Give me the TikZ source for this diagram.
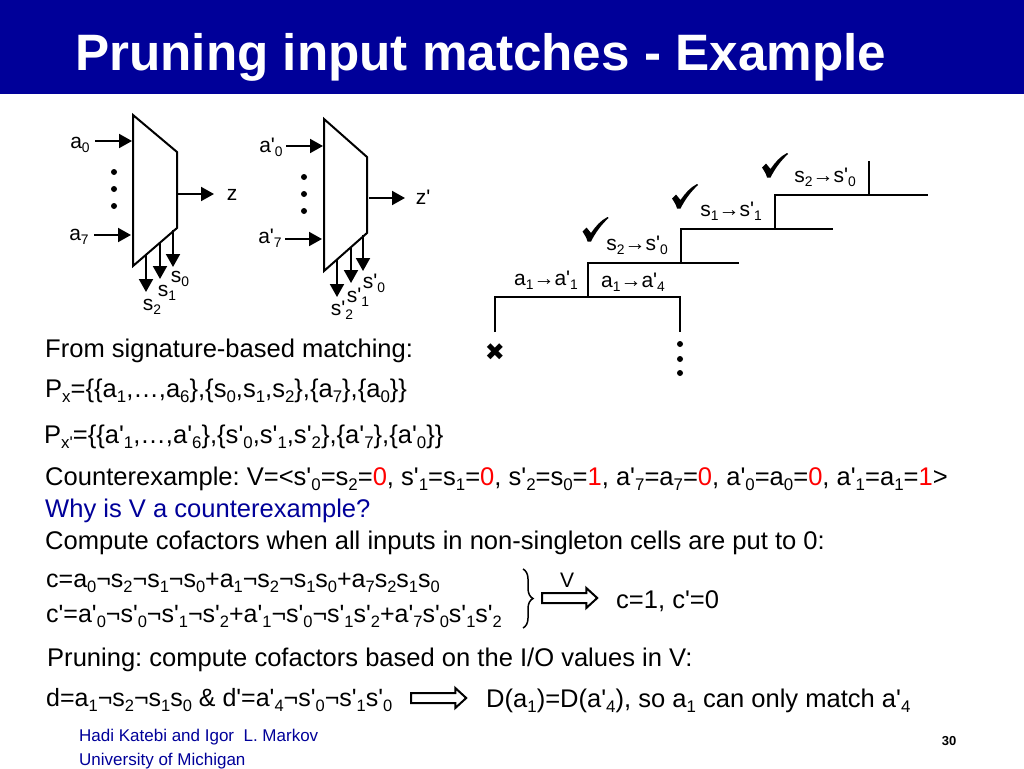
\documentclass[tikz,border=0pt]{standalone}
\usepackage{fontspec}
\setmainfont[Ligatures=TeXOff]{Liberation Sans}
\newfontfamily\symfont{DejaVu Sans}
\usetikzlibrary{arrows.meta,decorations.pathreplacing,shapes.arrows}
\definecolor{banner}{RGB}{0,0,153}
\definecolor{hotred}{RGB}{255,0,0}
\newcommand{\dn}[1]{\raisebox{-0.22em}{\scalebox{.66}{#1}}}
\newcommand{\rd}[1]{\textcolor{hotred}{#1}}
\frenchspacing
\tikzset{
  txt/.style={anchor=base west, inner sep=0pt, font=\fontsize{25.55}{28}\selectfont},
  eqn/.style={anchor=base west, inner sep=0pt, font=\fontsize{25}{28}\selectfont},
  lbl/.style={anchor=base, inner sep=0pt, font=\fontsize{21}{24}\selectfont},
  foot/.style={anchor=base west, inner sep=0pt, text=banner, font=\fontsize{17}{19}\selectfont},
  wire/.style={line width=2pt},
  sig/.style={line width=2pt, -{Triangle[length=13pt,width=14pt]}},
  dotmark/.style={circle, fill=black, inner sep=0pt, minimum size=6pt},
  fat/.style={single arrow, draw, line width=2pt, inner sep=4pt, outer sep=0pt, minimum height=55pt, single arrow head extend=5pt, single arrow tip angle=85},
  tickmark/.pic={\fill (-13,2) -- (-9,-2) -- (-4.5,3.5) .. controls (0,-3) and (5,-9) .. (12,-12.5) -- (13,-11.5) .. controls (6,-5) and (0,3) .. (-4.5,12) -- (-8,12) .. controls (-9,8) and (-11,5) .. cycle;}
}
\begin{document}
\begin{tikzpicture}[x=1pt,y=-1pt]
  \useasboundingbox (0,0) rectangle (1024,768);
  % Title banner:
  \fill[banner] (0,0) rectangle (1024,94);
  \node[anchor=base west, inner sep=0pt, text=white, font=\bfseries\fontsize{51.2}{54}\selectfont] (title) at (75,70.5) {Pruning input matches - Example};

  % First mux:
  \coordinate (m1a) at (133,115);
  \coordinate (m1b) at (177,152);
  \coordinate (m1c) at (177,228);
  \coordinate (m1d) at (133,266);
  \draw[wire, line join=miter] (m1a) -- (m1b) -- (m1c) -- (m1d) -- cycle;
  \coordinate (a0in) at (95,141);
  \coordinate (a0to) at (132,141);
  \coordinate (a7in) at (94,235);
  \coordinate (a7to) at (131,235);
  \coordinate (zout) at (178,194);
  \coordinate (zto) at (214,194);
  \coordinate (s0top) at (173,230);
  \coordinate (s0to) at (173,267);
  \coordinate (s1top) at (160,243);
  \coordinate (s1to) at (160,279);
  \coordinate (s2top) at (146,255);
  \coordinate (s2to) at (146,292);
  \draw[sig] (a0in) -- (a0to);
  \draw[sig] (a7in) -- (a7to);
  \draw[sig] (zout) -- (zto);
  \draw[sig] (s0top) -- (s0to);
  \draw[sig] (s1top) -- (s1to);
  \draw[sig] (s2top) -- (s2to);
  \node[lbl] (a0) at (80,148) {a\dn{0}};
  \node[lbl] (a7) at (79,240) {a\dn{7}};
  \node[lbl] (z) at (232,200) {z};
  \node[lbl] (s0) at (180,282) {s\dn{0}};
  \node[lbl] (s1) at (167,296) {s\dn{1}};
  \node[lbl] (s2) at (152,310) {s\dn{2}};
  \node[dotmark] (d1) at (114,172) {};
  \node[dotmark] (d2) at (114,189) {};
  \node[dotmark] (d3) at (114,206) {};

  % Second mux:
  \coordinate (m2a) at (324,119);
  \coordinate (m2b) at (367,157);
  \coordinate (m2c) at (367,233);
  \coordinate (m2d) at (324,271);
  \draw[wire, line join=miter] (m2a) -- (m2b) -- (m2c) -- (m2d) -- cycle;
  \coordinate (b0in) at (286,146);
  \coordinate (b0to) at (323,146);
  \coordinate (b7in) at (285,239);
  \coordinate (b7to) at (322,239);
  \coordinate (youtx) at (369,198);
  \coordinate (yto) at (405,198);
  \coordinate (r0top) at (363,235);
  \coordinate (r0to) at (363,271);
  \coordinate (r1top) at (351,248);
  \coordinate (r1to) at (351,283);
  \coordinate (r2top) at (337,260);
  \coordinate (r2to) at (337,297);
  \draw[sig] (b0in) -- (b0to);
  \draw[sig] (b7in) -- (b7to);
  \draw[sig] (youtx) -- (yto);
  \draw[sig] (r0top) -- (r0to);
  \draw[sig] (r1top) -- (r1to);
  \draw[sig] (r2top) -- (r2to);
  \node[lbl] (b0) at (271,152) {a'\dn{0}};
  \node[lbl] (b7) at (270,243) {a'\dn{7}};
  \node[lbl] (zp) at (423,204) {z'};
  \node[lbl] (r0) at (374,288) {s'\dn{0}};
  \node[lbl] (r1) at (358,302) {s'\dn{1}};
  \node[lbl] (r2) at (342,315) {s'\dn{2}};
  \node[dotmark] (e1) at (304,177) {};
  \node[dotmark] (e2) at (304,194) {};
  \node[dotmark] (e3) at (304,211) {};

  % Search tree:
  \coordinate (t1l) at (495,297);
  \coordinate (t1r) at (680,297);
  \coordinate (t1m) at (588,297);
  \coordinate (t1ld) at (495,332);
  \coordinate (t1rd) at (680,332);
  \coordinate (t2l) at (588,263);
  \coordinate (t2r) at (739,263);
  \coordinate (t2m) at (681,263);
  \coordinate (t3l) at (681,229);
  \coordinate (t3r) at (833,229);
  \coordinate (t3m) at (775,229);
  \coordinate (t4l) at (775,195);
  \coordinate (t4r) at (928,195);
  \coordinate (t4m) at (869,195);
  \coordinate (t4top) at (869,161);
  \draw[wire] (t1ld) -- (t1l) -- (t1r) -- (t1rd);
  \draw[wire] (t1m) -- (t2l) -- (t2r);
  \draw[wire] (t2m) -- (t3l) -- (t3r);
  \draw[wire] (t3m) -- (t4l) -- (t4r);
  \draw[wire] (t4m) -- (t4top);
  \node[lbl] (m1) at (546,285) {a\dn{1}→a'\dn{1}};
  \node[lbl] (m2) at (633,287) {a\dn{1}→a'\dn{4}};
  \node[lbl] (m3) at (637,250) {s\dn{2}→s'\dn{0}};
  \node[lbl] (m4) at (731,216) {s\dn{1}→s'\dn{1}};
  \node[lbl] (m5) at (825,182) {s\dn{2}→s'\dn{0}};
  \pic at (595.5,229.5) {tickmark};
  \pic at (685,196.5) {tickmark};
  \pic at (775,165.5) {tickmark};
  \node[inner sep=0pt, font=\symfont\fontsize{24}{24}\selectfont] (cross) at (495,352) {✖};
  \node[dotmark] (f1) at (680,344) {};
  \node[dotmark] (f2) at (680,359) {};
  \node[dotmark] (f3) at (680,373) {};

  % Text lines:
  \node[txt] (sigline) at (45,357) {From signature-based matching:};
  \node[txt] (px) at (45,397) {P\dn{x}=\{\{a\dn{1},…,a\dn{6}\},\{s\dn{0},s\dn{1},s\dn{2}\},\{a\dn{7}\},\{a\dn{0}\}\}};
  \node[txt] (pxp) at (44,443) {P\dn{x'}=\{\{a'\dn{1},…,a'\dn{6}\},\{s'\dn{0},s'\dn{1},s'\dn{2}\},\{a'\dn{7}\},\{a'\dn{0}\}\}};
  \node[txt] (cex) at (45,485) {Counterexample: V=<s'\dn{0}=s\dn{2}=\rd{0}, s'\dn{1}=s\dn{1}=\rd{0}, s'\dn{2}=s\dn{0}=\rd{1}, a'\dn{7}=a\dn{7}=\rd{0}, a'\dn{0}=a\dn{0}=\rd{0}, a'\dn{1}=a\dn{1}=\rd{1}>};
  \node[txt, text=banner] (why) at (45,517) {Why is V a counterexample?};
  \node[txt] (cof) at (45,549) {Compute cofactors when all inputs in non-singleton cells are put to 0:};
  \node[eqn] (ceq) at (46,587) {c=a\dn{0}¬s\dn{2}¬s\dn{1}¬s\dn{0}+a\dn{1}¬s\dn{2}¬s\dn{1}s\dn{0}+a\dn{7}s\dn{2}s\dn{1}s\dn{0}};
  \node[eqn] (cpeq) at (46,622) {c'=a'\dn{0}¬s'\dn{0}¬s'\dn{1}¬s'\dn{2}+a'\dn{1}¬s'\dn{0}¬s'\dn{1}s'\dn{2}+a'\dn{7}s'\dn{0}s'\dn{1}s'\dn{2}};
  \coordinate (brtop) at (523,569);
  \coordinate (brbot) at (523,628);
  \draw[line width=1.5pt, decorate, decoration={brace, amplitude=10pt}] (brtop) -- (brbot);
  \node[fat] (imp1) at (567,598) {};
  \node[lbl] (vtag) at (567,587) {V};
  \node[txt] (cres) at (616,608) {c=1, c'=0};
  \node[txt] (prune) at (47,666) {Pruning: compute cofactors based on the I/O values in V:};
  \node[eqn] (deq) at (46,706) {d=a\dn{1}¬s\dn{2}¬s\dn{1}s\dn{0} \& d'=a'\dn{4}¬s'\dn{0}¬s'\dn{1}s'\dn{0}};
  \node[fat] (imp2) at (436,698) {};
  \node[txt] (dres) at (486,707) {D(a\dn{1})=D(a'\dn{4}), so a\dn{1} can only match a'\dn{4}};

  % Footer:
  \node[foot] (auth) at (79,741) {Hadi Katebi and Igor\ \ L. Markov};
  \node[foot] (univ) at (79,765) {University of Michigan};
  \node[anchor=base, inner sep=0pt, font=\bfseries\fontsize{13}{14}\selectfont] (page) at (949,745) {30};
\end{tikzpicture}
\end{document}
